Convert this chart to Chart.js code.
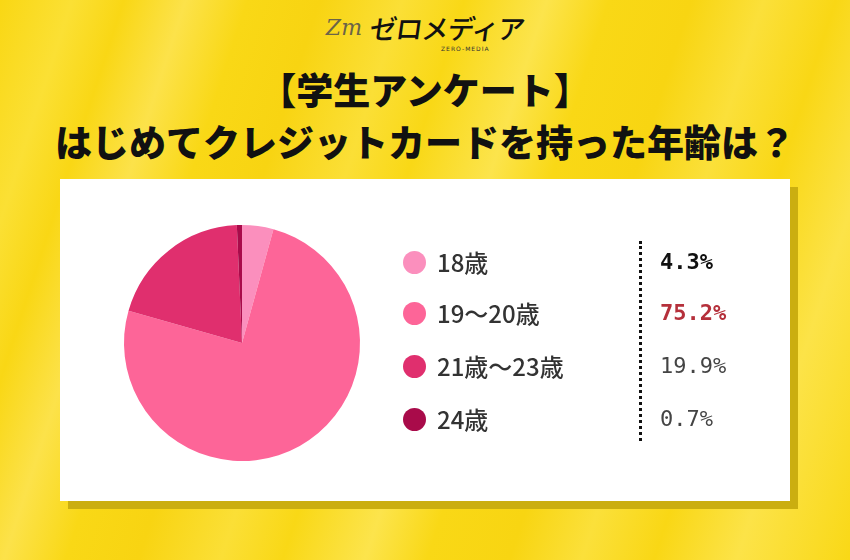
<!DOCTYPE html>
<html lang="ja">
<head>
<meta charset="utf-8">
<script src="https://cdn.jsdelivr.net/npm/chart.js@4.4.1/dist/chart.umd.min.js"></script>
<style>
  html, body { margin: 0; padding: 0; }
  body {
    width: 850px; height: 560px; position: relative; overflow: hidden;
    background:
      linear-gradient(108deg,
        #f9d714 0%, #fbe034 7%, #f9d715 12%, #fce24a 18%, #f9d816 24%,
        #f8d412 31%, #fbdf36 39%, #f9d816 45%, #fce44c 53%, #f9d816 59%,
        #f8d512 67%, #fbe03a 74%, #f9d715 81%, #fce348 89%, #f9d816 100%);
    font-family: "Noto Sans CJK JP", "Noto Sans", sans-serif;
  }
  #logo { position: absolute; left: 0; width: 850px; top: 8px; text-align: center; height: 44px; }
  #logo .zm { font-family: "DejaVu Serif", serif; font-style: italic; color: #6b6448; font-size: 22px; vertical-align: middle; margin-right: 8px; }
  #logo .jp { font-size: 27px; color: #111; font-weight: 500; vertical-align: middle; letter-spacing: -1px; transform: skewX(-8deg); display: inline-block; }
  #logo .en { position: absolute; left: 441px; top: 37px; font-size: 6px; color: #333; letter-spacing: 1px; font-family: "DejaVu Sans", sans-serif; }
  .title { position: absolute; left: 0; width: 850px; text-align: center; font-weight: 900; color: #111; font-size: 37px; line-height: 1; white-space: nowrap; }
  #t1 { top: 71px; }
  #t2 { top: 123px; }
  #shadow { position: absolute; left: 68px; top: 187px; width: 730px; height: 322px; background: #cbae10; }
  #box { position: absolute; left: 60px; top: 179px; width: 730px; height: 322px; background: #ffffff; }
  #chartWrap { position: absolute; left: 0; top: 0; width: 850px; height: 560px; }
  .row { position: absolute; left: 403px; height: 30px; display: flex; align-items: center; }
  .dot { width: 23px; height: 23px; border-radius: 50%; margin-right: 11px; }
  .lab { font-size: 24px; color: #333333; line-height: 1; font-weight: 500; }
  .val { position: absolute; left: 660px; font-family: "DejaVu Sans Mono", monospace; font-size: 22px; line-height: 30px; height: 30px; color: #444; }
  #dline { position: absolute; left: 639px; top: 241px; height: 200px; border-left: 3px dotted #111; }
</style>
</head>
<body>
<div id="logo"><span class="zm">Zm</span><span class="jp">ゼロメディア</span><span class="en">ZERO-MEDIA</span></div>
<div class="title" id="t1">【学生アンケート】</div>
<div class="title" id="t2">はじめてクレジットカードを持った年齢は？</div>
<div id="shadow"></div>
<div id="box"></div>
<div id="chartWrap"><canvas id="c" width="850" height="560"></canvas></div>
<div id="legend"></div>
<div id="dline"></div>
<script>
const categories = ["18歳", "19〜20歳", "21歳〜23歳", "24歳"];
const values = [4.3, 75.2, 19.9, 0.7];
const valueLabels = ["4.3%", "75.2%", "19.9%", "0.7%"];
const colors = ["#fb8fbd", "#fd6598", "#e02f6e", "#a90b4a"];
const valueColors = ["#111111", "#b5303b", "#444444", "#444444"];
const valueWeights = ["600", "600", "normal", "normal"];
const rowCenters = [262, 313, 366, 419];

new Chart(document.getElementById('c'), {
  type: 'pie',
  data: {
    labels: categories,
    datasets: [{ data: values, backgroundColor: colors, borderWidth: 0 }]
  },
  options: {
    responsive: false,
    animation: false,
    layout: { padding: { left: 124, top: 225, right: 490, bottom: 99 } },
    plugins: { legend: { display: false }, tooltip: { enabled: false }, title: { display: false } }
  }
});

const legend = document.getElementById('legend');
categories.forEach((cat, i) => {
  const row = document.createElement('div');
  row.className = 'row';
  row.style.top = (rowCenters[i] - 15) + 'px';
  const d = document.createElement('div');
  d.className = 'dot';
  d.style.background = colors[i];
  const l = document.createElement('div');
  l.className = 'lab';
  l.textContent = cat;
  row.appendChild(d); row.appendChild(l);
  legend.appendChild(row);
  const v = document.createElement('div');
  v.className = 'val';
  v.style.top = (rowCenters[i] - 15) + 'px';
  v.style.color = valueColors[i];
  v.style.fontWeight = valueWeights[i];
  v.textContent = valueLabels[i];
  legend.appendChild(v);
});
</script>
</body>
</html>
